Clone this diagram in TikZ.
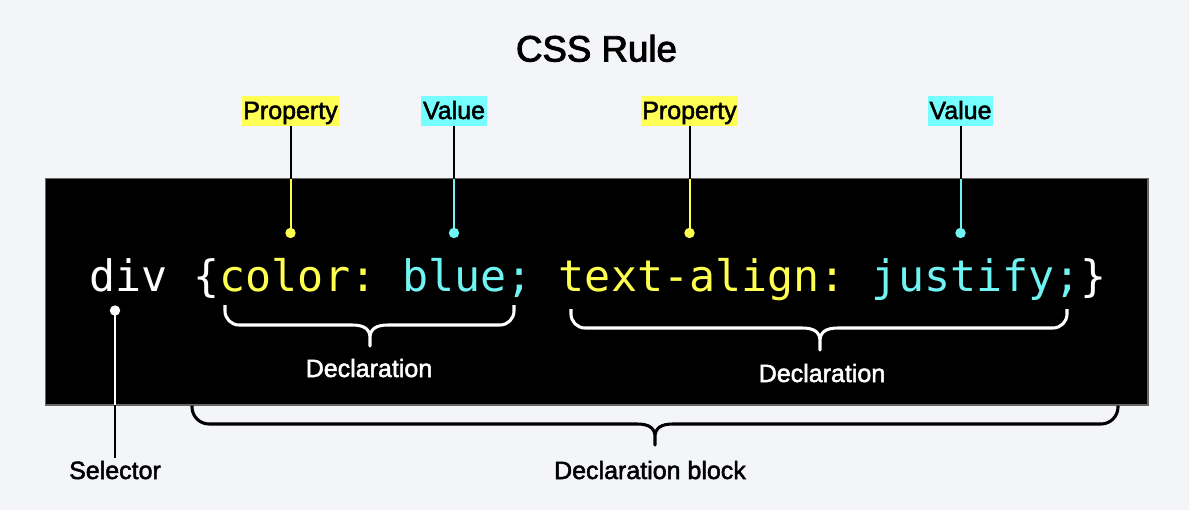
\documentclass[tikz,border=0pt]{standalone}
\usepackage{fontspec}
\setmainfont{Liberation Sans}
\newfontfamily\medfont{Liberation Sans}[FakeBold=2]
\newfontfamily\titlefont{Liberation Sans}[FakeBold=2.5]
\newfontfamily\codefont{DejaVu Sans Mono}
\definecolor{bg}{HTML}{F4F5F9}
\definecolor{boxgrey}{HTML}{666666}
\definecolor{cyel}{HTML}{FFFF50}
\definecolor{ccya}{HTML}{6FF3F3}
\definecolor{lyel}{HTML}{FFFF55}
\definecolor{lcya}{HTML}{77FFFF}
\tikzset{
  lbl/.style={inner xsep=1.2pt, inner ysep=2.25pt, text height=15pt, text depth=3pt,
    font=\medfont\fontsize{18.75}{22}\selectfont, text=black},
  dlbl/.style={anchor=base, inner sep=2pt, font=\medfont\fontsize{18.75}{22}\selectfont},
  conn/.style={line width=1.5pt},
  bracestyle/.style={line width=2.3pt, line cap=butt, line join=round},
}
\newcommand{\cssbrace}[8]{% colour x1 x2 xm ytop yh ytip r
  \draw[bracestyle,#1] (#2,#5) -- (#2,#6-#8) .. controls (#2,#6-0.45*#8) and (#2+0.45*#8,#6) .. (#2+#8,#6)
   -- (#4-18,#6) .. controls (#4-6,#6) and (#4,#6+4) .. (#4,#6+13) -- (#4,#7)
   -- (#4,#6+13) .. controls (#4,#6+4) and (#4+6,#6) .. (#4+18,#6)
   -- (#3-#8,#6) .. controls (#3-0.45*#8,#6) and (#3,#6-0.45*#8) .. (#3,#6-#8) -- (#3,#5);}
\begin{document}
\begin{tikzpicture}[x=0.75pt,y=-0.75pt]
\useasboundingbox (0,0) rectangle (1189,510);
\fill[bg] (0,0) rectangle (1189,510);
% title
\node[anchor=base, inner sep=0, font=\titlefont\fontsize{27.5}{32}\selectfont] (title) at (596.5,61.5) {CSS Rule};
% black box
\coordinate (boxtl) at (45.5,178.5);
\coordinate (boxbr) at (1148,405);
\draw[fill=black, draw=boxgrey, line width=0.8pt] (boxtl) rectangle (boxbr);
% code
\node[anchor=base west, inner sep=0, font=\codefont\fontsize{32.5}{36}\selectfont\frenchspacing, text=white] (code) at (89,291)
  {div {\{}\textcolor{cyel}{color:} \textcolor{ccya}{blue;} \textcolor{cyel}{text-align:} \textcolor{ccya}{justify;}\}};
% labels
\node[lbl, fill=lyel] (prop1) at (290.5,111) {Property};
\node[lbl, fill=lcya] (val1) at (454,111) {Value};
\node[lbl, fill=lyel] (prop2) at (689.5,111) {Property};
\node[lbl, fill=lcya] (val2) at (960.5,111) {Value};
% dots
\coordinate (pd1) at (290.5,233);
\coordinate (vd1) at (454,233);
\coordinate (pd2) at (689.5,233);
\coordinate (vd2) at (960.5,233);
\coordinate (sd) at (115,310.5);
\foreach \n/\d/\c in {prop1/pd1/cyel, val1/vd1/ccya, prop2/pd2/cyel, val2/vd2/ccya}{
  \draw[conn, black] (\n.south) -- (\n.south |- boxtl);
  \draw[conn, \c] (\n.south |- boxtl) -- (\d);
  \fill[\c] (\d) circle (3.9pt);
}
% selector
\node[dlbl, text=black] (sel) at (115,479) {Selector};
\fill[white] (sd) circle (3.9pt);
\draw[conn, white] (sd) -- (sd |- boxbr);
\draw[conn, black] (sd |- boxbr) -- (sd |- sel.north);
% braces
\cssbrace{white}{225}{514}{370}{305}{325}{346}{14}
\cssbrace{white}{571}{1067}{820}{309}{328}{350}{14}
\cssbrace{black}{192}{1118}{655}{405.5}{424}{445}{17}
% declaration labels
\node[dlbl, text=white] (decl1) at (369,377) {Declaration};
\node[dlbl, text=white] (decl2) at (822,382) {Declaration};
\node[dlbl, text=black] (block) at (650,479) {Declaration block};
\end{tikzpicture}
\end{document}
